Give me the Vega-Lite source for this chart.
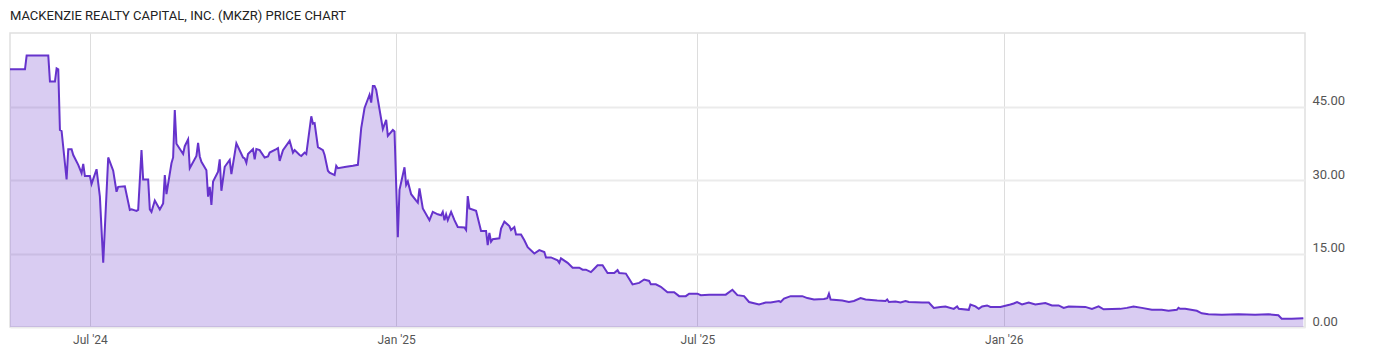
{
  "$schema": "https://vega.github.io/schema/vega-lite/v6.json",
  "autosize": "none",
  "width": 1295,
  "height": 294,
  "padding": {"left": 10, "top": 33, "right": 95, "bottom": 30},
  "background": "white",
  "title": {
    "text": "MACKENZIE REALTY CAPITAL, INC. (MKZR) PRICE CHART",
    "anchor": "start",
    "frame": "group",
    "font": "Roboto",
    "fontSize": 13,
    "fontWeight": "normal",
    "color": "#222222",
    "offset": 10
  },
  "config": {
    "view": {"stroke": "#e0e0e0", "strokeWidth": 1.5},
    "axis": {"labelFont": "Roboto", "labelFontSize": 13, "labelColor": "#555555", "domain": false, "ticks": false, "tickSize": 0, "title": null}
  },
  "data": {
    "values": [
      {"date": "2024-05-14", "close": 52.6},
      {"date": "2024-05-23", "close": 52.6},
      {"date": "2024-05-24", "close": 55.4},
      {"date": "2024-06-06", "close": 55.4},
      {"date": "2024-06-07", "close": 50.1},
      {"date": "2024-06-10", "close": 50.1},
      {"date": "2024-06-11", "close": 52.8},
      {"date": "2024-06-12", "close": 52.6},
      {"date": "2024-06-13", "close": 40.2},
      {"date": "2024-06-14", "close": 40.0},
      {"date": "2024-06-17", "close": 30.1},
      {"date": "2024-06-18", "close": 36.3},
      {"date": "2024-06-20", "close": 36.3},
      {"date": "2024-06-21", "close": 35.1},
      {"date": "2024-06-24", "close": 33.1},
      {"date": "2024-06-26", "close": 31.4},
      {"date": "2024-06-27", "close": 33.3},
      {"date": "2024-06-28", "close": 30.8},
      {"date": "2024-07-01", "close": 30.8},
      {"date": "2024-07-02", "close": 29.2},
      {"date": "2024-07-05", "close": 32.2},
      {"date": "2024-07-07", "close": 26.6},
      {"date": "2024-07-09", "close": 13.1},
      {"date": "2024-07-12", "close": 34.6},
      {"date": "2024-07-15", "close": 31.9},
      {"date": "2024-07-17", "close": 27.6},
      {"date": "2024-07-18", "close": 28.6},
      {"date": "2024-07-22", "close": 28.7},
      {"date": "2024-07-25", "close": 23.9},
      {"date": "2024-07-26", "close": 24.0},
      {"date": "2024-07-29", "close": 23.7},
      {"date": "2024-07-30", "close": 23.9},
      {"date": "2024-08-01", "close": 36.1},
      {"date": "2024-08-02", "close": 30.1},
      {"date": "2024-08-05", "close": 30.1},
      {"date": "2024-08-06", "close": 24.0},
      {"date": "2024-08-07", "close": 23.5},
      {"date": "2024-08-09", "close": 25.8},
      {"date": "2024-08-12", "close": 24.0},
      {"date": "2024-08-14", "close": 25.2},
      {"date": "2024-08-15", "close": 31.0},
      {"date": "2024-08-16", "close": 27.1},
      {"date": "2024-08-19", "close": 33.4},
      {"date": "2024-08-20", "close": 34.6},
      {"date": "2024-08-21", "close": 44.3},
      {"date": "2024-08-22", "close": 37.4},
      {"date": "2024-08-26", "close": 35.3},
      {"date": "2024-08-27", "close": 36.9},
      {"date": "2024-08-29", "close": 38.3},
      {"date": "2024-08-30", "close": 32.4},
      {"date": "2024-09-03", "close": 34.9},
      {"date": "2024-09-04", "close": 37.6},
      {"date": "2024-09-05", "close": 34.8},
      {"date": "2024-09-06", "close": 33.7},
      {"date": "2024-09-09", "close": 32.0},
      {"date": "2024-09-10", "close": 26.6},
      {"date": "2024-09-11", "close": 28.6},
      {"date": "2024-09-12", "close": 24.9},
      {"date": "2024-09-13", "close": 29.7},
      {"date": "2024-09-16", "close": 31.7},
      {"date": "2024-09-17", "close": 34.2},
      {"date": "2024-09-18", "close": 27.8},
      {"date": "2024-09-20", "close": 32.7},
      {"date": "2024-09-23", "close": 34.1},
      {"date": "2024-09-24", "close": 31.2},
      {"date": "2024-09-27", "close": 37.5},
      {"date": "2024-10-01", "close": 34.6},
      {"date": "2024-10-02", "close": 34.4},
      {"date": "2024-10-03", "close": 33.5},
      {"date": "2024-10-04", "close": 35.3},
      {"date": "2024-10-07", "close": 36.3},
      {"date": "2024-10-08", "close": 34.2},
      {"date": "2024-10-09", "close": 36.3},
      {"date": "2024-10-11", "close": 36.1},
      {"date": "2024-10-14", "close": 34.6},
      {"date": "2024-10-16", "close": 34.8},
      {"date": "2024-10-17", "close": 35.6},
      {"date": "2024-10-21", "close": 36.3},
      {"date": "2024-10-22", "close": 36.5},
      {"date": "2024-10-23", "close": 33.9},
      {"date": "2024-10-25", "close": 36.1},
      {"date": "2024-10-29", "close": 38.0},
      {"date": "2024-10-31", "close": 35.6},
      {"date": "2024-11-01", "close": 36.1},
      {"date": "2024-11-04", "close": 35.1},
      {"date": "2024-11-05", "close": 34.9},
      {"date": "2024-11-07", "close": 35.6},
      {"date": "2024-11-08", "close": 35.3},
      {"date": "2024-11-11", "close": 43.0},
      {"date": "2024-11-12", "close": 41.5},
      {"date": "2024-11-13", "close": 41.6},
      {"date": "2024-11-15", "close": 36.7},
      {"date": "2024-11-18", "close": 36.1},
      {"date": "2024-11-19", "close": 35.1},
      {"date": "2024-11-21", "close": 31.9},
      {"date": "2024-11-22", "close": 31.5},
      {"date": "2024-11-25", "close": 31.0},
      {"date": "2024-11-26", "close": 32.9},
      {"date": "2024-11-27", "close": 32.4},
      {"date": "2024-12-02", "close": 32.7},
      {"date": "2024-12-06", "close": 32.9},
      {"date": "2024-12-09", "close": 33.1},
      {"date": "2024-12-11", "close": 40.6},
      {"date": "2024-12-13", "close": 44.7},
      {"date": "2024-12-16", "close": 47.4},
      {"date": "2024-12-17", "close": 45.8},
      {"date": "2024-12-18", "close": 49.2},
      {"date": "2024-12-19", "close": 49.2},
      {"date": "2024-12-20", "close": 48.4},
      {"date": "2024-12-24", "close": 40.4},
      {"date": "2024-12-26", "close": 42.3},
      {"date": "2024-12-27", "close": 39.0},
      {"date": "2024-12-30", "close": 40.2},
      {"date": "2024-12-31", "close": 39.9},
      {"date": "2025-01-02", "close": 18.3},
      {"date": "2025-01-03", "close": 28.0},
      {"date": "2025-01-06", "close": 32.6},
      {"date": "2025-01-07", "close": 29.0},
      {"date": "2025-01-08", "close": 29.7},
      {"date": "2025-01-10", "close": 27.1},
      {"date": "2025-01-13", "close": 25.8},
      {"date": "2025-01-14", "close": 25.4},
      {"date": "2025-01-15", "close": 28.3},
      {"date": "2025-01-17", "close": 24.2},
      {"date": "2025-01-21", "close": 21.8},
      {"date": "2025-01-23", "close": 23.5},
      {"date": "2025-01-26", "close": 23.0},
      {"date": "2025-01-28", "close": 22.8},
      {"date": "2025-01-29", "close": 23.5},
      {"date": "2025-01-30", "close": 21.8},
      {"date": "2025-01-31", "close": 23.0},
      {"date": "2025-02-01", "close": 21.8},
      {"date": "2025-02-03", "close": 23.5},
      {"date": "2025-02-05", "close": 21.8},
      {"date": "2025-02-07", "close": 20.4},
      {"date": "2025-02-11", "close": 20.3},
      {"date": "2025-02-12", "close": 19.8},
      {"date": "2025-02-13", "close": 26.7},
      {"date": "2025-02-14", "close": 24.2},
      {"date": "2025-02-18", "close": 23.7},
      {"date": "2025-02-21", "close": 19.6},
      {"date": "2025-02-24", "close": 19.6},
      {"date": "2025-02-25", "close": 16.7},
      {"date": "2025-02-26", "close": 19.2},
      {"date": "2025-02-27", "close": 17.4},
      {"date": "2025-02-28", "close": 17.9},
      {"date": "2025-03-04", "close": 18.1},
      {"date": "2025-03-05", "close": 20.1},
      {"date": "2025-03-07", "close": 21.5},
      {"date": "2025-03-10", "close": 20.6},
      {"date": "2025-03-11", "close": 19.8},
      {"date": "2025-03-13", "close": 20.4},
      {"date": "2025-03-14", "close": 18.9},
      {"date": "2025-03-17", "close": 18.9},
      {"date": "2025-03-19", "close": 17.7},
      {"date": "2025-03-21", "close": 16.3},
      {"date": "2025-03-25", "close": 15.0},
      {"date": "2025-03-28", "close": 15.7},
      {"date": "2025-03-31", "close": 15.3},
      {"date": "2025-04-01", "close": 14.2},
      {"date": "2025-04-04", "close": 14.2},
      {"date": "2025-04-08", "close": 13.6},
      {"date": "2025-04-09", "close": 13.1},
      {"date": "2025-04-10", "close": 14.0},
      {"date": "2025-04-14", "close": 13.1},
      {"date": "2025-04-17", "close": 12.1},
      {"date": "2025-04-21", "close": 12.1},
      {"date": "2025-04-23", "close": 11.7},
      {"date": "2025-04-25", "close": 11.7},
      {"date": "2025-04-28", "close": 11.2},
      {"date": "2025-04-30", "close": 11.9},
      {"date": "2025-05-02", "close": 12.6},
      {"date": "2025-05-05", "close": 12.6},
      {"date": "2025-05-08", "close": 11.0},
      {"date": "2025-05-12", "close": 11.0},
      {"date": "2025-05-14", "close": 11.6},
      {"date": "2025-05-15", "close": 11.0},
      {"date": "2025-05-19", "close": 10.9},
      {"date": "2025-05-23", "close": 8.7},
      {"date": "2025-05-27", "close": 9.0},
      {"date": "2025-05-30", "close": 9.7},
      {"date": "2025-06-02", "close": 9.4},
      {"date": "2025-06-03", "close": 8.7},
      {"date": "2025-06-06", "close": 8.7},
      {"date": "2025-06-09", "close": 8.2},
      {"date": "2025-06-13", "close": 7.1},
      {"date": "2025-06-17", "close": 7.1},
      {"date": "2025-06-20", "close": 6.3},
      {"date": "2025-06-24", "close": 6.3},
      {"date": "2025-06-26", "close": 6.8},
      {"date": "2025-07-01", "close": 6.8},
      {"date": "2025-07-03", "close": 6.5},
      {"date": "2025-07-08", "close": 6.6},
      {"date": "2025-07-14", "close": 6.6},
      {"date": "2025-07-18", "close": 6.6},
      {"date": "2025-07-22", "close": 7.6},
      {"date": "2025-07-25", "close": 6.5},
      {"date": "2025-07-29", "close": 6.3},
      {"date": "2025-08-01", "close": 5.1},
      {"date": "2025-08-07", "close": 4.6},
      {"date": "2025-08-11", "close": 5.0},
      {"date": "2025-08-14", "close": 5.0},
      {"date": "2025-08-19", "close": 5.3},
      {"date": "2025-08-20", "close": 5.1},
      {"date": "2025-08-22", "close": 5.8},
      {"date": "2025-08-26", "close": 6.3},
      {"date": "2025-09-02", "close": 6.3},
      {"date": "2025-09-05", "close": 5.9},
      {"date": "2025-09-09", "close": 5.6},
      {"date": "2025-09-15", "close": 5.7},
      {"date": "2025-09-17", "close": 5.9},
      {"date": "2025-09-18", "close": 6.8},
      {"date": "2025-09-19", "close": 5.6},
      {"date": "2025-09-26", "close": 5.4},
      {"date": "2025-09-30", "close": 5.1},
      {"date": "2025-10-03", "close": 5.3},
      {"date": "2025-10-07", "close": 5.9},
      {"date": "2025-10-10", "close": 5.6},
      {"date": "2025-10-17", "close": 5.4},
      {"date": "2025-10-22", "close": 5.3},
      {"date": "2025-10-23", "close": 5.6},
      {"date": "2025-10-24", "close": 5.1},
      {"date": "2025-10-28", "close": 5.2},
      {"date": "2025-10-31", "close": 5.0},
      {"date": "2025-11-03", "close": 5.3},
      {"date": "2025-11-05", "close": 5.1},
      {"date": "2025-11-13", "close": 5.0},
      {"date": "2025-11-17", "close": 5.0},
      {"date": "2025-11-20", "close": 3.9},
      {"date": "2025-11-24", "close": 4.1},
      {"date": "2025-11-27", "close": 4.2},
      {"date": "2025-12-02", "close": 3.7},
      {"date": "2025-12-04", "close": 4.2},
      {"date": "2025-12-05", "close": 3.7},
      {"date": "2025-12-11", "close": 3.5},
      {"date": "2025-12-12", "close": 4.6},
      {"date": "2025-12-15", "close": 4.2},
      {"date": "2025-12-17", "close": 3.7},
      {"date": "2025-12-19", "close": 4.2},
      {"date": "2025-12-22", "close": 4.4},
      {"date": "2025-12-24", "close": 4.1},
      {"date": "2025-12-30", "close": 4.1},
      {"date": "2026-01-05", "close": 4.6},
      {"date": "2026-01-07", "close": 4.8},
      {"date": "2026-01-09", "close": 5.1},
      {"date": "2026-01-12", "close": 4.6},
      {"date": "2026-01-16", "close": 5.0},
      {"date": "2026-01-20", "close": 4.6},
      {"date": "2026-01-26", "close": 4.9},
      {"date": "2026-01-30", "close": 4.4},
      {"date": "2026-02-03", "close": 4.4},
      {"date": "2026-02-06", "close": 3.9},
      {"date": "2026-02-09", "close": 4.2},
      {"date": "2026-02-19", "close": 4.1},
      {"date": "2026-02-23", "close": 3.7},
      {"date": "2026-02-27", "close": 4.2},
      {"date": "2026-03-02", "close": 3.6},
      {"date": "2026-03-12", "close": 3.7},
      {"date": "2026-03-16", "close": 3.9},
      {"date": "2026-03-20", "close": 4.2},
      {"date": "2026-03-25", "close": 3.9},
      {"date": "2026-03-31", "close": 3.5},
      {"date": "2026-04-06", "close": 3.5},
      {"date": "2026-04-10", "close": 3.3},
      {"date": "2026-04-15", "close": 3.5},
      {"date": "2026-04-16", "close": 3.9},
      {"date": "2026-04-17", "close": 3.7},
      {"date": "2026-04-20", "close": 3.7},
      {"date": "2026-04-27", "close": 3.3},
      {"date": "2026-04-30", "close": 2.8},
      {"date": "2026-05-04", "close": 2.6},
      {"date": "2026-05-12", "close": 2.5},
      {"date": "2026-05-22", "close": 2.6},
      {"date": "2026-06-01", "close": 2.5},
      {"date": "2026-06-09", "close": 2.6},
      {"date": "2026-06-15", "close": 2.4},
      {"date": "2026-06-17", "close": 1.7},
      {"date": "2026-06-23", "close": 1.7},
      {"date": "2026-06-30", "close": 1.8}
    ]
  },
  "encoding": {
    "x": {
      "field": "date",
      "type": "temporal",
      "scale": {
        "type": "utc",
        "nice": false,
        "domain": [
          {"year": 2024, "month": 5, "date": 14, "utc": true},
          {"year": 2026, "month": 7, "date": 1, "utc": true}
        ]
      },
      "axis": {
        "orient": "bottom",
        "values": [
          {"year": 2024, "month": 7, "date": 1, "utc": true},
          {"year": 2025, "month": 1, "date": 1, "utc": true},
          {"year": 2025, "month": 7, "date": 1, "utc": true},
          {"year": 2026, "month": 1, "date": 1, "utc": true}
        ],
        "format": "%b '%y",
        "labelFontSize": 12,
        "labelPadding": 7,
        "grid": true,
        "gridColor": "#dddddd",
        "gridWidth": 1
      }
    },
    "y": {
      "field": "close",
      "type": "quantitative",
      "scale": {"domain": [0, 60], "nice": false, "zero": true},
      "axis": {
        "orient": "right",
        "values": [0, 15, 30, 45],
        "format": ".2f",
        "labelBaseline": "alphabetic",
        "labelOffset": -2,
        "labelPadding": 7,
        "grid": true,
        "gridColor": "#ebebeb",
        "gridWidth": 2
      }
    }
  },
  "layer": [
    {"mark": {"type": "area", "color": "#6633cc", "opacity": 0.25, "interpolate": "linear"}},
    {"mark": {"type": "line", "color": "#6633cc", "strokeWidth": 2, "interpolate": "linear"}}
  ]
}
